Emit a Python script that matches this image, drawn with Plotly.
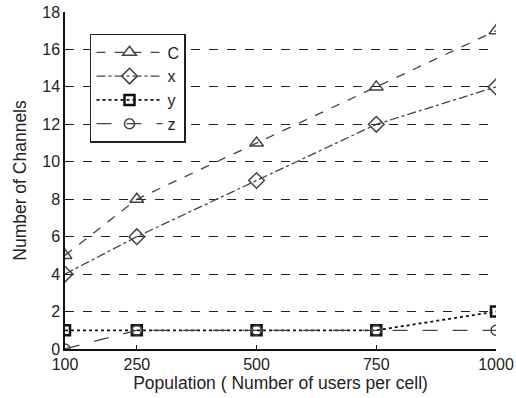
import plotly.graph_objects as go

population = [100, 250, 500, 750, 1000]
series_C = [5, 8, 11, 14, 17]
series_x = [4, 6, 9, 12, 14]
series_y = [1, 1, 1, 1, 2]
series_z = [0, 1, 1, 1, 1]
y_ticks = [0, 2, 4, 6, 8, 10, 12, 14, 16, 18]

line_col = "#444444"
fig = go.Figure()
fig.add_trace(go.Scatter(x=population, y=series_C, name="C", mode="lines+markers",
                         line=dict(color=line_col, width=1.3, dash="dash"),
                         marker=dict(symbol="triangle-up-open", size=12, color=line_col, line=dict(width=1.5))))
fig.add_trace(go.Scatter(x=population, y=series_x, name="x", mode="lines+markers",
                         line=dict(color=line_col, width=1.3, dash="dashdot"),
                         marker=dict(symbol="diamond-open", size=12, color=line_col, line=dict(width=1.5))))
fig.add_trace(go.Scatter(x=population, y=series_y, name="y", mode="lines+markers",
                         line=dict(color="#111111", width=1.8, dash="dot"),
                         marker=dict(symbol="square-open", size=10, color="#111111", line=dict(width=2.5))))
fig.add_trace(go.Scatter(x=population, y=series_z, name="z", mode="lines+markers",
                         line=dict(color=line_col, width=1.3, dash="longdash"),
                         marker=dict(symbol="circle-open", size=10, color=line_col, line=dict(width=1.5))))

font_fam = "Liberation Sans, Arial, sans-serif"
fig.update_layout(
    width=516, height=398,
    margin=dict(l=65, r=20, t=12, b=49),
    paper_bgcolor="white", plot_bgcolor="white",
    font=dict(family=font_fam, size=16, color="#222222"),
    showlegend=True,
    legend=dict(x=0.058, y=0.935, xanchor="left", yanchor="top",
                bgcolor="white", bordercolor="#222222", borderwidth=1.5,
                font=dict(size=16), itemwidth=66, tracegroupgap=0),
    xaxis=dict(range=[100, 1000], tickvals=population, ticktext=[str(v) for v in population],
               automargin=False,
               showgrid=False, zeroline=False, showline=True, linecolor="#111111", linewidth=1.5,
               ticks="inside", ticklen=4, tickcolor="#111111", tickfont=dict(size=16),
               title=dict(text="Population ( Number of users per cell)", standoff=2, font=dict(size=17.5))),
    yaxis=dict(range=[0, 18], tickvals=y_ticks, ticktext=[str(v) for v in y_ticks],
               automargin=False,
               showgrid=True, gridcolor="#222222", griddash="dash", gridwidth=1,
               zeroline=False, showline=True, linecolor="#111111", linewidth=1.5,
               ticks="inside", ticklen=4, tickcolor="#111111", tickfont=dict(size=16),
               title=dict(text="Number of Channels", standoff=11, font=dict(size=17.5))),
)
fig.write_html("out.html")
